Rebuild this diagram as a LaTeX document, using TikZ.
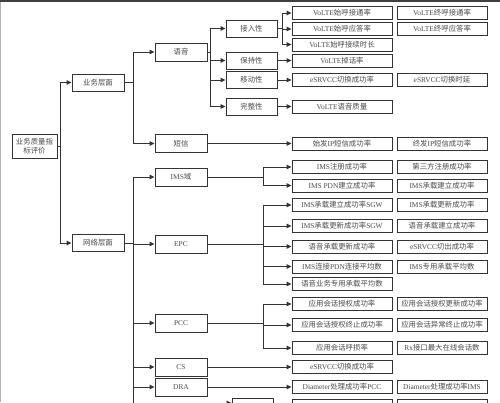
\documentclass[tikz,border=0pt]{standalone}
\usepackage{fontspec}
\setmainfont{Liberation Serif}
\newfontfamily\cjk{Noto Sans CJK SC}
\usetikzlibrary{arrows.meta}
\newcommand{\eng}[1]{{\rmfamily #1}}
\definecolor{lncol}{HTML}{333333}
\definecolor{txcol}{HTML}{4A4A4A}
\tikzset{
  box/.style={draw=lncol, line width=0.9pt, fill=white, inner sep=0pt, align=center,
    text=txcol, font=\cjk\fontsize{7.4}{9}\selectfont},
  rootbox/.style={box, minimum width=45pt, minimum height=24pt},
  lone/.style={box, minimum width=52pt, minimum height=17pt},
  ltwo/.style={box, minimum width=52pt, minimum height=18pt},
  lthree/.style={box, minimum width=51pt, minimum height=17pt},
  lfour/.style={box, minimum width=100pt, minimum height=13pt},
  lfive/.style={box, minimum width=90pt, minimum height=13pt},
  lsmall/.style={box, minimum width=41pt, minimum height=10pt},
  ln/.style={draw=lncol, line width=0.9pt},
  arr/.style={draw=lncol, line width=0.9pt, -{Triangle[length=5pt,width=4.5pt]}}
}
\begin{document}
\begin{tikzpicture}[x=1pt,y=-1pt]
\useasboundingbox (0,0) rectangle (500,402);
\clip (0,0) rectangle (500,402);
\fill[white] (0,0) rectangle (500,402);
\draw[line width=1pt, black!30] (0.5,0) -- (0.5,402);
\draw[line width=1.6pt, black!75] (0,0.8) -- (500,0.8);

% root and level 1
\node[rootbox] (root) at (34.5,146) {业务质量指\\标评价};
\node[lone] (ywcm) at (98,82.5) {业务层面};
\node[lone] (wlcm) at (98,243) {网络层面};

% level 2
\node[ltwo] (yy) at (181,52) {语音};
\node[ltwo] (dx) at (181,143.5) {短信};
\node[ltwo] (ims) at (181,177) {\eng{IMS}域};
\node[ltwo] (epc) at (181,244) {\eng{EPC}};
\node[ltwo] (pcc) at (181,323) {\eng{PCC}};
\node[ltwo] (cs) at (181,367) {\eng{CS}};
\node[ltwo] (dra) at (181,387) {\eng{DRA}};

% level 3
\node[lthree] (jrx) at (251.5,28.5) {接入性};
\node[lthree] (bcx) at (251.5,60.5) {保持性};
\node[lthree] (ydx) at (251.5,80) {移动性};
\node[lthree] (wzx) at (251.5,106.5) {完整性};
\node[lsmall] (xb) at (252.5,403) {};

% level 4
\node[lfour] (na1) at (342,13) {\eng{VoLTE}始呼接通率};
\node[lfour] (na2) at (342,29) {\eng{VoLTE}始呼应答率};
\node[lfour] (na3) at (342,44.5) {\eng{VoLTE}始呼接续时长};
\node[lfour] (nb1) at (342,60.5) {\eng{VoLTE}掉话率};
\node[lfour] (nc1) at (342,80) {\eng{eSRVCC}切换成功率};
\node[lfour] (nd1) at (342,106.5) {\eng{VoLTE}语音质量};
\node[lfour] (ne1) at (342,143.5) {始发\eng{IP}短信成功率};
\node[lfour] (nf1) at (342,167) {\eng{IMS}注册成功率};
\node[lfour] (nf2) at (342,185.5) {\eng{IMS PDN}建立成功率};
\node[lfour] (ng1) at (342,205) {\eng{IMS}承载建立成功率\eng{SGW}};
\node[lfour] (ng2) at (342,226) {\eng{IMS}承载更新成功率\eng{SGW}};
\node[lfour] (ng3) at (342,246.5) {语音承载更新成功率};
\node[lfour] (ng4) at (342,266.5) {\eng{IMS}连接\eng{PDN}连接平均数};
\node[lfour] (ng5) at (342,284) {语音业务专用承载平均数};
\node[lfour] (nh1) at (342,304) {应用会话授权成功率};
\node[lfour] (nh2) at (342,325) {应用会话授权终止成功率};
\node[lfour] (nh3) at (342,348) {应用会话呼损率};
\node[lfour] (ni1) at (342,367) {\eng{eSRVCC}切换成功率};
\node[lfour] (nj1) at (342,387) {\eng{Diameter}处理成功率\eng{PCC}};
\node[lfour] (nk1) at (342,405.5) {};

% level 5
\node[lfive] (ra1) at (442,13) {\eng{VoLTE}终呼接通率};
\node[lfive] (ra2) at (442,29) {\eng{VoLTE}终呼应答率};
\node[lfive] (rc1) at (442,80) {\eng{eSRVCC}切换时延};
\node[lfive] (re1) at (442,143.5) {终发\eng{IP}短信成功率};
\node[lfive] (rf1) at (442,167) {第三方注册成功率};
\node[lfive] (rf2) at (442,185.5) {\eng{IMS}承载建立成功率};
\node[lfive] (rg1) at (442,205) {\eng{IMS}承载更新成功率};
\node[lfive] (rg2) at (442,226) {语音承载建立成功率};
\node[lfive] (rg3) at (442,246.5) {\eng{eSRVCC}切出成功率};
\node[lfive] (rg4) at (442,266.5) {\eng{IMS}专用承载平均数};
\node[lfive] (rh1) at (442,304) {应用会话授权更新成功率};
\node[lfive] (rh2) at (442,325) {应用会话异常终止成功率};
\node[lfive] (rh3) at (442,348) {\eng{Rx}接口最大在线会话数};
\node[lfive] (rj1) at (442,387) {\eng{Diameter}处理成功率\eng{IMS}};
\node[lfive] (rk1) at (442,405.5) {};

% junctions
\coordinate (c0) at (60,146);
\coordinate (c1) at (133,82.5);
\coordinate (c2) at (133,243);
\coordinate (c2end) at (133,410);
\coordinate (c3) at (210,52);
\coordinate (c4) at (282,28.5);
\coordinate (c5) at (263,177);
\coordinate (c6) at (263,244);
\coordinate (c7) at (263,323);
\coordinate (cb) at (215,403);

% connectors
\draw[ln] (root.east) -- (c0);
\draw[arr] (c0) |- (ywcm.west);
\draw[arr] (c0) |- (wlcm.west);

\draw[ln] (ywcm.east) -- (c1);
\draw[arr] (c1) |- (yy.west);
\draw[arr] (c1) |- (dx.west);

\draw[ln] (wlcm.east) -- (c2);
\draw[ln] (c2) -- (c2end);
\draw[arr] (c2) |- (ims.west);
\draw[arr] (c2) |- (epc.west);
\draw[arr] (c2) |- (pcc.west);
\draw[arr] (c2) |- (cs.west);
\draw[arr] (c2) |- (dra.west);

\draw[ln] (yy.east) -- (c3);
\draw[arr] (c3) |- (jrx.west);
\draw[arr] (c3) |- (bcx.west);
\draw[arr] (c3) |- (ydx.west);
\draw[arr] (c3) |- (wzx.west);

\draw[ln] (jrx.east) -- (c4);
\draw[arr] (c4) |- (na1.west);
\draw[arr] (c4) |- (na2.west);
\draw[arr] (c4) |- (na3.west);

\draw[arr] (bcx.east) -- (nb1.west);
\draw[arr] (ydx.east) -- (nc1.west);
\draw[arr] (wzx.east) -- (nd1.west);
\draw[arr] (dx.east) -- (ne1.west);

\draw[ln] (ims.east) -- (c5);
\draw[arr] (c5) |- (nf1.west);
\draw[arr] (c5) |- (nf2.west);

\draw[ln] (epc.east) -- (c6);
\draw[arr] (c6) |- (ng1.west);
\draw[arr] (c6) |- (ng2.west);
\draw[arr] (c6) |- (ng3.west);
\draw[arr] (c6) |- (ng4.west);
\draw[arr] (c6) |- (ng5.west);

\draw[ln] (pcc.east) -- (c7);
\draw[arr] (c7) |- (nh1.west);
\draw[arr] (c7) |- (nh2.west);
\draw[arr] (c7) |- (nh3.west);

\draw[arr] (cs.east) -- (ni1.west);
\draw[arr] (dra.east) -- (nj1.west);
\draw[arr] (cb) -- (xb.west);
\end{tikzpicture}
\end{document}
